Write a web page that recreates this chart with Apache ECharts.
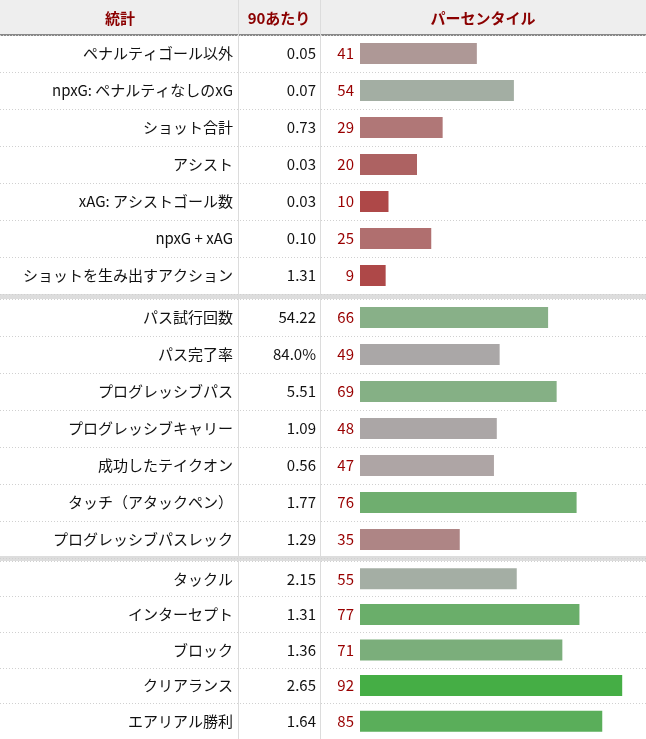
<!DOCTYPE html>
<html><head><meta charset="utf-8">
<script src="https://cdn.jsdelivr.net/npm/echarts@6/dist/echarts.min.js"></script>
<style>html,body{margin:0;padding:0;background:#fff}#c{width:646px;height:739px}</style>
</head><body><div id="c"></div>
<script>
const headers = ['統計', '90あたり', 'パーセンタイル'];
const stats1 = ['ペナルティゴール以外','npxG: ペナルティなしのxG','ショット合計','アシスト','xAG: アシストゴール数','npxG + xAG','ショットを生み出すアクション'];
const per90_1 = ['0.05','0.07','0.73','0.03','0.03','0.10','1.31'];
const pct1 = [41,54,29,20,10,25,9];
const stats2 = ['パス試行回数','パス完了率','プログレッシブパス','プログレッシブキャリー','成功したテイクオン','タッチ（アタックペン）','プログレッシブパスレック'];
const per90_2 = ['54.22','84.0%','5.51','1.09','0.56','1.77','1.29'];
const pct2 = [66,49,69,48,47,76,35];
const stats3 = ['タックル','インターセプト','ブロック','クリアランス','エアリアル勝利'];
const per90_3 = ['2.15','1.31','1.36','2.65','1.64'];
const pct3 = [55,77,71,92,85];
const colors1 = ['#ae9896','#a3aea3','#b07777','#ad6262','#ae4848','#b06f6f','#ae4848'];
const colors2 = ['#88b088','#aaa7a7','#85b085','#aba6a6','#aea5a5','#6fae6f','#ae8585'];
const colors3 = ['#a4aea4','#6aae6a','#7bae7b','#45ae45','#5aae5a'];

const sections = [[stats1,per90_1,pct1,colors1],[stats2,per90_2,pct2,colors2],[stats3,per90_3,pct3,colors3]];
const tops = [35, 299, 561];
const ROW = 37;
const PX = 2.85; // px per percentile unit
const xMin = -360/PX, xMax = (646-360)/PX;
const font = '"Noto Sans CJK JP","Noto Sans",sans-serif';

const grid=[], xAxis=[], yAxis=[], series=[];
sections.forEach((s,i)=>{
  const [names, vals, pcts, cols] = s;
  grid.push({left:0,right:0,top:tops[i],height:names.length*ROW,containLabel:false});
  xAxis.push({gridIndex:i,type:'value',min:xMin,max:xMax,show:false});
  yAxis.push({gridIndex:i,type:'category',inverse:true,data:names.map((n,k)=>k),
    axisLine:{show:false},axisTick:{show:false},
    splitLine:{show:true,interval:0,lineStyle:{color:'#d0d0d0',type:[1,2],width:1}},
    axisLabel:{inside:true,margin:0,align:'left',interval:0,
      formatter:(v)=>{const k=+v;return '{a|'+names[k]+'}{b|'+vals[k]+'}{c|'+pcts[k]+'}';},
      rich:{a:{width:233,align:'right',fontSize:15,color:'#111',fontFamily:font},
            b:{width:83,align:'right',fontSize:15,color:'#111',fontFamily:font},
            c:{width:38,align:'right',fontSize:15,color:'#990000',fontFamily:font}}}});
  series.push({type:'bar',xAxisIndex:i,yAxisIndex:i,barWidth:21,silent:true,
    data:pcts.map((p,k)=>({value:p,itemStyle:{color:cols[k]}}))});
});

const graphic=[
  {type:'rect',shape:{x:0,y:0,width:646,height:35},style:{fill:'#eeeeee'},z:-1},
  {type:'rect',shape:{x:0,y:34,width:646,height:2},style:{fill:'#888'}},
  {type:'rect',shape:{x:0,y:294,width:646,height:5},style:{fill:'#dddddd'}},
  {type:'rect',shape:{x:0,y:556,width:646,height:5},style:{fill:'#dddddd'}},
  {type:'rect',shape:{x:238,y:0,width:1,height:739},style:{fill:'#dcdcdc'}},
  {type:'rect',shape:{x:320,y:0,width:1,height:739},style:{fill:'#dcdcdc'}},
  {type:'text',x:120,y:18,style:{text:headers[0],fill:'#8b0000',font:'bold 15px '+font,textAlign:'center',textVerticalAlign:'middle'}},
  {type:'text',x:279,y:18,style:{text:headers[1],fill:'#8b0000',font:'bold 15px '+font,textAlign:'center',textVerticalAlign:'middle'}},
  {type:'text',x:483,y:18,style:{text:headers[2],fill:'#8b0000',font:'bold 15px '+font,textAlign:'center',textVerticalAlign:'middle'}}
];

const chart=echarts.init(document.getElementById('c'),null,{renderer:'canvas'});
chart.setOption({animation:false,grid,xAxis,yAxis,series,graphic});
</script></body></html>
